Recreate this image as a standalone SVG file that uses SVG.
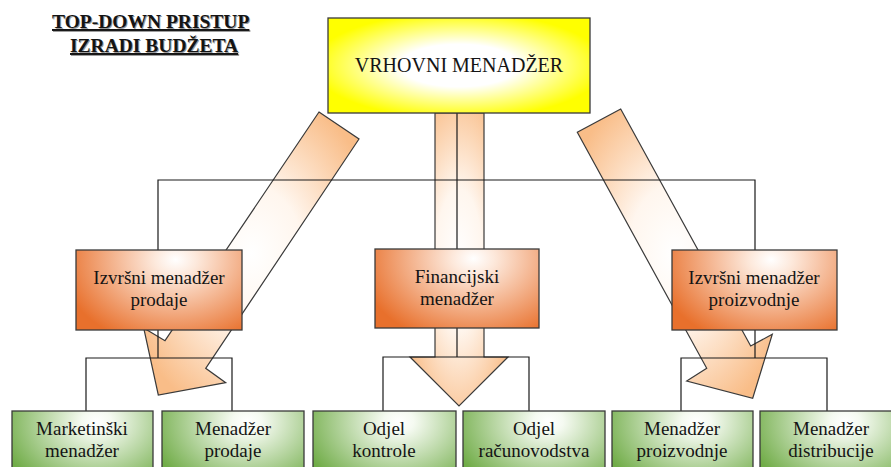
<svg xmlns="http://www.w3.org/2000/svg" width="891" height="467" viewBox="0 0 891 467">
<style>
text{font-family:'Liberation Serif','DejaVu Serif',serif;fill:#141414;text-anchor:middle}
.t{font-size:19px}
.big{font-size:20px}
.title{font-size:19.5px;font-weight:bold;text-anchor:start;text-decoration:underline}
.sh{fill:#9a9a9a}
.box{stroke:#3a3a3a;stroke-width:1.3}
.arr{fill:url(#gp);stroke:#3a3a3a;stroke-width:1.2;stroke-linejoin:miter}
.con{fill:none;stroke:#1a1a1a;stroke-width:1.2}
</style>
<defs>
<radialGradient id="gy" cx="0.5" cy="0.5" r="0.56">
<stop offset="0" stop-color="#ffffff"/><stop offset="0.4" stop-color="#ffffff"/><stop offset="1" stop-color="#ffff00"/>
</radialGradient>
<radialGradient id="go" cx="0.6" cy="0.12" r="1" gradientTransform="translate(0.6,0.12) scale(0.7,1.1) translate(-0.6,-0.12)">
<stop offset="0" stop-color="#ffffff"/><stop offset="0.18" stop-color="#fde9dc"/><stop offset="1" stop-color="#e8702c"/>
</radialGradient>
<radialGradient id="gg" cx="0.6" cy="0.15" r="1" gradientTransform="translate(0.6,0.15) scale(0.7,1.1) translate(-0.6,-0.15)">
<stop offset="0" stop-color="#ffffff"/><stop offset="0.15" stop-color="#f5faf1"/><stop offset="1" stop-color="#70ac47"/>
</radialGradient>
<radialGradient id="gp" cx="0.5" cy="0.5" r="0.6">
<stop offset="0" stop-color="#ffffff"/><stop offset="0.4" stop-color="#fff6ee"/><stop offset="1" stop-color="#f9bd88"/>
</radialGradient>
</defs>

<g id="title">
<text class="title sh" x="53" y="29">TOP-DOWN PRISTUP</text>
<text class="title sh" x="71" y="53">IZRADI BUDŽETA</text>
<text class="title" x="52" y="28">TOP-DOWN PRISTUP</text>
<text class="title" x="70" y="52">IZRADI BUDŽETA</text>
</g>

<g id="block-arrows">
<polygon class="arr" points="319,112 359,139 205.7,368.3 225.7,382.7 158.3,395 143.7,328 165,340.7"/>
<polygon class="arr" points="620.7,109 577.3,132.3 706.7,368.3 686.7,381 752.7,398.3 772.3,334.3 750.7,346"/>
<polygon class="arr" points="435,113 484,113 484,357 508,357 459,406 410,357 435,357"/>
</g>

<g id="connectors">
<polyline class="con" points="457,113 457,249"/>
<polyline class="con" points="158,250 158,180 755,180 755,250"/>
<polyline class="con" points="86,411 86,358 232,358 232,411"/>
<line class="con" x1="158" y1="330" x2="158" y2="358"/>
<polyline class="con" points="383,411 383,357 529,357 529,411"/>
<line class="con" x1="457" y1="328" x2="457" y2="357"/>
<polyline class="con" points="681,411 681,358 827,358 827,411"/>
<line class="con" x1="755" y1="330" x2="755" y2="358"/>
</g>

<g id="vrhovni-menadzer">
<rect class="box" x="328" y="18" width="262" height="95" fill="url(#gy)"/>
<text class="big" x="459" y="72">VRHOVNI MENADŽER</text>
</g>

<g id="izvrsni-prodaje">
<rect class="box" x="76" y="250" width="166" height="80" fill="url(#go)"/>
<text class="t" x="159" y="284">Izvršni menadžer</text>
<text class="t" x="159" y="306">prodaje</text>
</g>

<g id="financijski-menadzer">
<rect class="box" x="375" y="249" width="164" height="79" fill="url(#go)"/>
<text class="t" x="457" y="283">Financijski</text>
<text class="t" x="457" y="305">menadžer</text>
</g>

<g id="izvrsni-proizvodnje">
<rect class="box" x="672" y="250" width="165" height="80" fill="url(#go)"/>
<text class="t" x="754" y="284">Izvršni menadžer</text>
<text class="t" x="754" y="306">proizvodnje</text>
</g>

<g id="marketinski-menadzer">
<rect class="box" x="12" y="411" width="141" height="70" fill="url(#gg)"/>
<text class="t" x="82" y="435">Marketinški</text>
<text class="t" x="82" y="457">menadžer</text>
</g>
<g id="menadzer-prodaje">
<rect class="box" x="162" y="411" width="142" height="70" fill="url(#gg)"/>
<text class="t" x="233" y="435">Menadžer</text>
<text class="t" x="233" y="457">prodaje</text>
</g>
<g id="odjel-kontrole">
<rect class="box" x="313" y="411" width="143" height="70" fill="url(#gg)"/>
<text class="t" x="384" y="435">Odjel</text>
<text class="t" x="384" y="457">kontrole</text>
</g>
<g id="odjel-racunovodstva">
<rect class="box" x="463" y="411" width="142" height="70" fill="url(#gg)"/>
<text class="t" x="534" y="435">Odjel</text>
<text class="t" x="534" y="457">računovodstva</text>
</g>
<g id="menadzer-proizvodnje">
<rect class="box" x="612" y="411" width="141" height="70" fill="url(#gg)"/>
<text class="t" x="682" y="435">Menadžer</text>
<text class="t" x="682" y="457">proizvodnje</text>
</g>
<g id="menadzer-distribucije">
<rect class="box" x="760" y="411" width="142" height="70" fill="url(#gg)"/>
<text class="t" x="831" y="435">Menadžer</text>
<text class="t" x="831" y="457">distribucije</text>
</g>
</svg>
